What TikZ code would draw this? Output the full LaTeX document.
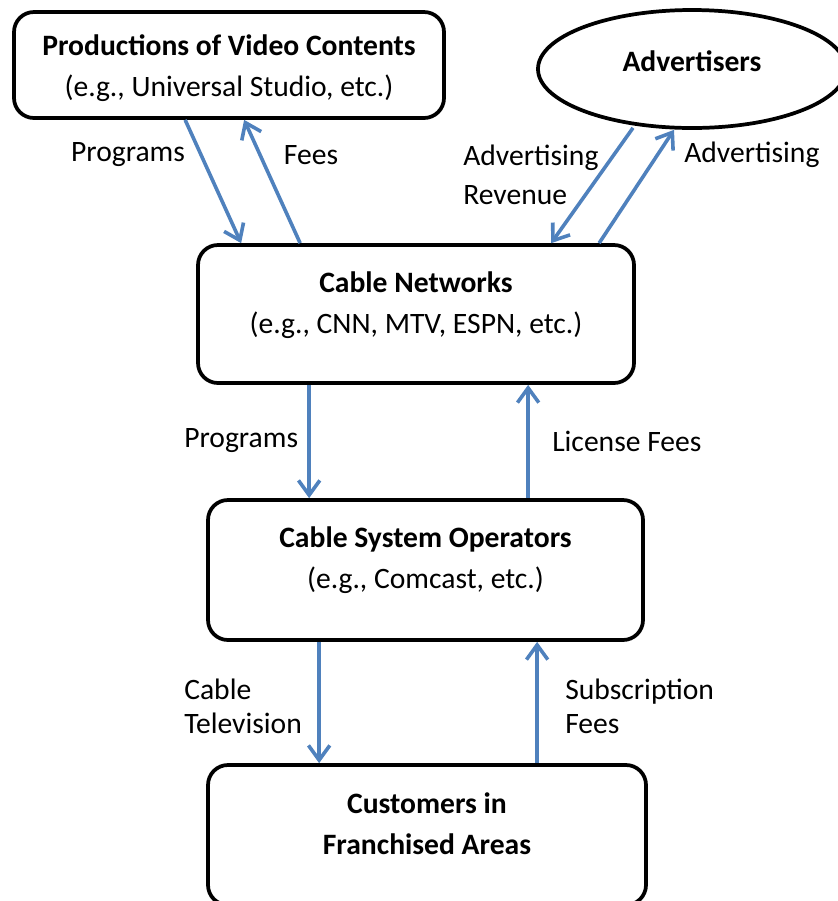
\documentclass[tikz,border=0pt]{standalone}
\usepackage{fontspec}
\setmainfont{Carlito}
\usetikzlibrary{arrows.meta,calc,shapes.geometric}
\definecolor{arrowblue}{RGB}{79,129,189}

\begin{document}
\begin{tikzpicture}[x=0.75pt,y=-0.75pt,
  box/.style={draw, line width=2.8pt, rounded corners=15pt, inner sep=0pt},
  oval/.style={draw, ellipse, line width=2.8pt, inner sep=0pt},
  flow/.style={arrowblue, line width=2.7pt, -{Straight Barb[length=11pt,width=16pt]}},
  body/.style={font=\fontsize{22.2}{30.75}\selectfont, inner sep=0pt, align=center},
  lbl/.style={font=\fontsize{22.2}{26}\selectfont, inner sep=0pt},
]
\useasboundingbox (0,0) rectangle (838,901);

% boxes
\node[box, minimum width=322.5pt, minimum height=79.5pt] (prod) at (229,65) {};
\node[oval, minimum width=231pt, minimum height=88.5pt] (adv) at (692,69) {};
\node[box, minimum width=327pt, minimum height=103.5pt] (net) at (416,314) {};
\node[box, minimum width=326.25pt, minimum height=105pt] (ops) at (425.5,570) {};
\node[box, minimum width=328.5pt, minimum height=105pt] (cust) at (427,835) {};

% box texts
\node[body] (prodtxt) at (229,68.5) {\textbf{Productions of Video Contents}\\(e.g., Universal Studio, etc.)};
\node[body] (advtxt) at (692,61) {\textbf{Advertisers}};
\node[body] (nettxt) at (416,305) {\textbf{Cable Networks}\\(e.g., CNN, MTV, ESPN, etc.)};
\node[body] (opstxt) at (425.5,560.5) {\textbf{Cable System Operators}\\(e.g., Comcast, etc.)};
\node[body] (custtxt) at (427,824) {\textbf{Customers in}\\\textbf{Franchised Areas}};

% connectors
\draw[flow] ($(prod.south west)+(173,0)$) -- ($(net.north west)+(45,0)$);
\draw[flow] ($(net.north west)+(104,0)$) -- ($(prod.south west)+(232,0)$);
\draw[flow] ($(adv.south)+(-59,-2)$) -- ($(net.north west)+(355,0)$);
\draw[flow] ($(net.north west)+(403,0)$) -- ($(adv.south)+(-18,0)$);
\draw[flow] ($(net.south west)+(113,0)$) -- ($(ops.north west)+(103,0)$);
\draw[flow] ($(ops.north west)+(322,0)$) -- ($(net.south west)+(332,0)$);
\draw[flow] ($(ops.south west)+(113,0)$) -- ($(cust.north west)+(113,0)$);
\draw[flow] ($(cust.north west)+(331,0)$) -- ($(ops.south west)+(331,0)$);

% connector labels
\node[lbl] (lprog1) at (128,155) {Programs};
\node[lbl] (lfees) at (311,155) {Fees};
\node[lbl, anchor=west, align=left, font=\fontsize{22.2}{29}\selectfont] (lrev) at (463,175) {Advertising\\Revenue};
\node[lbl, anchor=west] (ladv) at (684,155) {Advertising};
\node[lbl, anchor=west] (lprog2) at (184,441) {Programs};
\node[lbl, anchor=west] (llic) at (552,441) {License Fees};
\node[lbl, anchor=west, align=left, font=\fontsize{22.2}{25.5}\selectfont] (lcable) at (184,706) {Cable\\Television};
\node[lbl, anchor=west, align=left, font=\fontsize{22.2}{25.5}\selectfont] (lsub) at (565,706) {Subscription\\Fees};
\end{tikzpicture}
\end{document}
